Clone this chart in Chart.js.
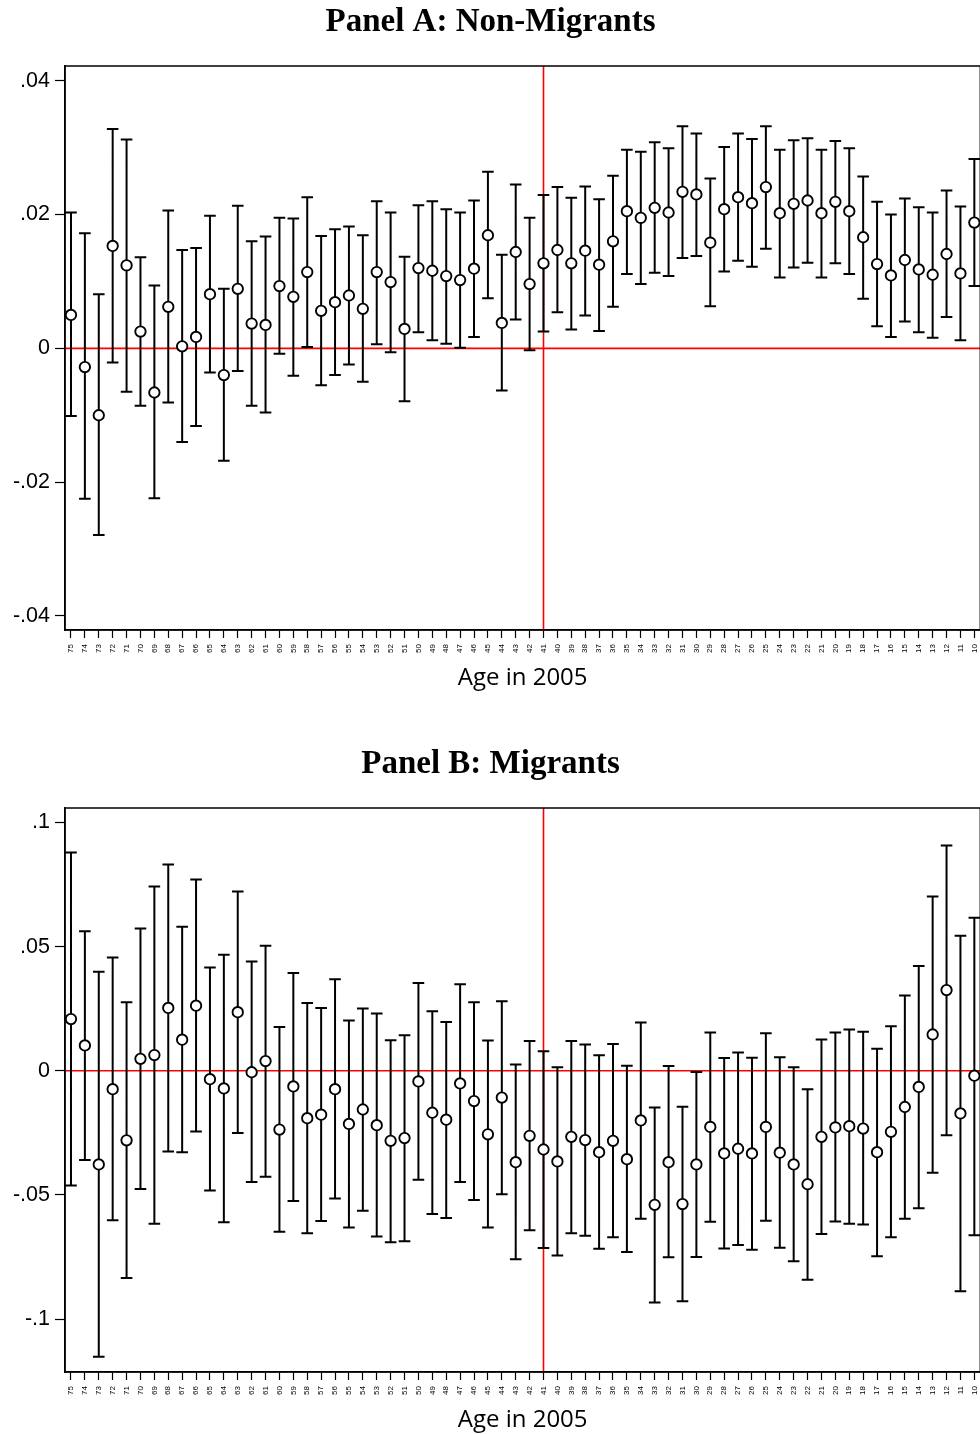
<!DOCTYPE html>
<html lang="en">
<head>
    <meta charset="UTF-8">
    <title>Age in 2005</title>
    <script src="https://cdn.jsdelivr.net/npm/chart.js"></script>
    <style>
        html, body { margin: 0; padding: 0; overflow: hidden; background: #fff; width: 980px; height: 1434px; }
        .panel { position: absolute; left: 0; }
        .panel canvas { display: block; }
        #panelA { top: 0; }
        #panelB { top: 742px; }
    </style>
</head>
<body>
    <div class="panel" id="panelA"><canvas id="chartA" width="990" height="700"></canvas></div>
    <div class="panel" id="panelB"><canvas id="chartB" width="990" height="700"></canvas></div>
    <script>
        // ages on the x axis, left to right
        const ages = [75, 74, 73, 72, 71, 70, 69, 68, 67, 66, 65, 64, 63, 62, 61, 60, 59, 58, 57,
            56, 55, 54, 53, 52, 51, 50, 49, 48, 47, 46, 45, 44, 43, 42, 41, 40, 39, 38, 37, 36, 35, 34,
            33, 32, 31, 30, 29, 28, 27, 26, 25, 24, 23, 22, 21, 20, 19, 18, 17, 16, 15, 14, 13, 12, 11, 10];
        const cutoffAge = 41;

        // Panel A: Non-Migrants
        const pointsA = [0.0050, -0.0028, -0.0100, 0.0153, 0.0124, 0.0025, -0.0066, 0.0062, 0.0003, 0.0017, 0.0081, -0.0040, 0.0089, 0.0037, 0.0035, 0.0093, 0.0077, 0.0114, 0.0056,
            0.0069, 0.0079, 0.0059, 0.0114, 0.0099, 0.0029, 0.0120, 0.0116, 0.0108, 0.0102, 0.0119, 0.0169, 0.0038, 0.0144, 0.0096, 0.0127, 0.0147, 0.0127, 0.0146, 0.0125, 0.0160, 0.0205, 0.0195,
            0.0210, 0.0203, 0.0234, 0.0230, 0.0158, 0.0208, 0.0226, 0.0217, 0.0241, 0.0202, 0.0216, 0.0221, 0.0202, 0.0219, 0.0205, 0.0166, 0.0126, 0.0109, 0.0132, 0.0118, 0.0110, 0.0141, 0.0112, 0.0188];
        const upperA = [0.0203, 0.0172, 0.0081, 0.0328, 0.0312, 0.0136, 0.0094, 0.0206, 0.0147, 0.0150, 0.0198, 0.0089, 0.0213, 0.0160, 0.0167, 0.0195, 0.0194, 0.0226, 0.0168,
            0.0178, 0.0182, 0.0169, 0.0220, 0.0203, 0.0137, 0.0214, 0.0220, 0.0208, 0.0203, 0.0221, 0.0264, 0.0140, 0.0245, 0.0195, 0.0229, 0.0241, 0.0225, 0.0242, 0.0223, 0.0258, 0.0297, 0.0294,
            0.0308, 0.0299, 0.0332, 0.0321, 0.0254, 0.0301, 0.0321, 0.0313, 0.0332, 0.0297, 0.0311, 0.0314, 0.0297, 0.0310, 0.0299, 0.0257, 0.0219, 0.0200, 0.0224, 0.0211, 0.0203, 0.0236, 0.0212, 0.0283];
        const lowerA = [-0.0101, -0.0225, -0.0279, -0.0021, -0.0065, -0.0086, -0.0224, -0.0081, -0.0140, -0.0116, -0.0036, -0.0168, -0.0034, -0.0086, -0.0096, -0.0008, -0.0041, 0.0002, -0.0055,
            -0.0040, -0.0024, -0.0050, 0.0006, -0.0006, -0.0079, 0.0024, 0.0012, 0.0007, 0.0001, 0.0017, 0.0075, -0.0063, 0.0043, -0.0003, 0.0025, 0.0054, 0.0028, 0.0049, 0.0026, 0.0062, 0.0111, 0.0096,
            0.0113, 0.0108, 0.0135, 0.0138, 0.0063, 0.0115, 0.0131, 0.0122, 0.0149, 0.0106, 0.0121, 0.0128, 0.0106, 0.0127, 0.0111, 0.0074, 0.0033, 0.0017, 0.0040, 0.0024, 0.0016, 0.0047, 0.0012, 0.0093];
        const ticksA = [-0.04, -0.02, 0, 0.02, 0.04];

        // Panel B: Migrants
        const pointsB = [0.0208, 0.0102, -0.0377, -0.0074, -0.0280, 0.0048, 0.0063, 0.0253, 0.0125, 0.0262, -0.0034, -0.0071, 0.0236, -0.0006, 0.0039, -0.0237, -0.0063, -0.0191, -0.0177,
            -0.0074, -0.0214, -0.0156, -0.0219, -0.0282, -0.0271, -0.0043, -0.0169, -0.0197, -0.0051, -0.0122, -0.0256, -0.0108, -0.0368, -0.0262, -0.0317, -0.0365, -0.0266, -0.0279, -0.0328, -0.0282, -0.0356, -0.0200,
            -0.0540, -0.0368, -0.0537, -0.0377, -0.0226, -0.0333, -0.0314, -0.0333, -0.0226, -0.0330, -0.0377, -0.0457, -0.0266, -0.0228, -0.0223, -0.0233, -0.0328, -0.0246, -0.0146, -0.0065, 0.0146, 0.0325, -0.0172, -0.0020];
        const upperB = [0.0879, 0.0562, 0.0399, 0.0456, 0.0276, 0.0573, 0.0742, 0.0831, 0.0580, 0.0770, 0.0416, 0.0467, 0.0722, 0.0440, 0.0503, 0.0176, 0.0394, 0.0273, 0.0253,
            0.0368, 0.0202, 0.0251, 0.0231, 0.0123, 0.0143, 0.0353, 0.0240, 0.0196, 0.0348, 0.0276, 0.0122, 0.0280, 0.0025, 0.0120, 0.0079, 0.0014, 0.0120, 0.0106, 0.0062, 0.0108, 0.0020, 0.0194,
            -0.0148, 0.0019, -0.0145, -0.0005, 0.0154, 0.0051, 0.0074, 0.0052, 0.0151, 0.0054, 0.0014, -0.0074, 0.0126, 0.0154, 0.0166, 0.0157, 0.0089, 0.0179, 0.0303, 0.0422, 0.0702, 0.0907, 0.0544, 0.0616];
        const lowerB = [-0.0462, -0.0359, -0.1152, -0.0602, -0.0835, -0.0476, -0.0616, -0.0325, -0.0328, -0.0245, -0.0482, -0.0610, -0.0251, -0.0448, -0.0427, -0.0648, -0.0524, -0.0654, -0.0605,
            -0.0514, -0.0631, -0.0564, -0.0667, -0.0691, -0.0687, -0.0439, -0.0577, -0.0593, -0.0448, -0.0520, -0.0631, -0.0497, -0.0759, -0.0642, -0.0714, -0.0744, -0.0654, -0.0664, -0.0717, -0.0670, -0.0730, -0.0596,
            -0.0933, -0.0751, -0.0928, -0.0750, -0.0608, -0.0716, -0.0702, -0.0721, -0.0604, -0.0713, -0.0767, -0.0842, -0.0657, -0.0607, -0.0616, -0.0619, -0.0747, -0.0670, -0.0596, -0.0554, -0.0411, -0.0260, -0.0888, -0.0662];
        const ticksB = [-0.1, -0.05, 0, 0.05, 0.1];

        // .04 / -.02 / 0 style labels
        function fmtTick(v) {
            if (v === 0) return '0';
            return String(+v.toFixed(3)).replace('0.', '.');
        }

        // draws red reference lines, the confidence interval caps and the plot frame
        function makeErrorBars(lower, upper) {
            return {
                id: 'errorBars',
                beforeDatasetsDraw(chart) {
                    const ctx = chart.ctx;
                    const area = chart.chartArea;
                    const x = chart.scales.x;
                    const y = chart.scales.y;
                    ctx.save();

                    ctx.strokeStyle = '#ff0000';
                    ctx.lineWidth = 1.6;
                    ctx.beginPath();
                    const y0 = y.getPixelForValue(0);
                    ctx.moveTo(area.left, y0);
                    ctx.lineTo(area.right, y0);
                    const xc = x.getPixelForValue(cutoffAge);
                    ctx.moveTo(xc, area.top);
                    ctx.lineTo(xc, area.bottom);
                    ctx.stroke();

                    ctx.strokeStyle = '#000';
                    ctx.lineWidth = 2;
                    ctx.beginPath();
                    ages.forEach((age, i) => {
                        const px = x.getPixelForValue(age);
                        const yl = y.getPixelForValue(lower[i]);
                        const yh = y.getPixelForValue(upper[i]);
                        ctx.moveTo(px, yl);
                        ctx.lineTo(px, yh);
                        ctx.moveTo(px - 5.8, yl);
                        ctx.lineTo(px + 5.8, yl);
                        ctx.moveTo(px - 5.8, yh);
                        ctx.lineTo(px + 5.8, yh);
                    });
                    ctx.stroke();

                    ctx.lineWidth = 1.5;
                    ctx.strokeRect(area.left, area.top, area.width, area.height);
                    ctx.restore();
                }
            };
        }

        function createPanel(canvasId, title, points, lower, upper, yTicks, yMin, yMax) {
            const ctx = document.getElementById(canvasId).getContext('2d');
            return new Chart(ctx, {
                type: 'scatter',
                data: {
                    datasets: [{
                        data: ages.map((age, i) => ({ x: age, y: points[i] })),
                        pointRadius: 5.2,
                        pointBorderWidth: 1.9,
                        pointBorderColor: '#000',
                        pointBackgroundColor: '#fff',
                        showLine: false
                    }]
                },
                options: {
                    responsive: false,
                    animation: false,
                    layout: { padding: { right: 9 } },
                    plugins: {
                        legend: { display: false },
                        tooltip: { enabled: false },
                        title: {
                            display: true,
                            text: title,
                            color: '#000',
                            font: { family: 'Liberation Serif', size: 33, weight: 'bold' },
                            padding: { top: 3, bottom: 23.4 }
                        }
                    },
                    scales: {
                        x: {
                            type: 'linear',
                            reverse: true,
                            min: 9.57,
                            max: 75.43,
                            afterBuildTicks: s => { s.ticks = ages.map(a => ({ value: a })); },
                            afterFit: s => { s.height = 70; },
                            grid: { drawOnChartArea: false, tickLength: 8, tickColor: '#000', tickWidth: 1.2 },
                            border: { color: '#000', width: 1.5 },
                            ticks: {
                                autoSkip: false,
                                minRotation: 90,
                                maxRotation: 90,
                                padding: 6,
                                color: '#000',
                                font: { family: 'Liberation Sans', size: 8 }
                            },
                            title: {
                                display: true,
                                text: 'Age in 2005',
                                color: '#000',
                                font: { family: 'Open Sans', size: 24 },
                                padding: { top: 0, bottom: 7.6 }
                            }
                        },
                        y: {
                            min: yMin,
                            max: yMax,
                            afterBuildTicks: s => { s.ticks = yTicks.map(v => ({ value: v })); },
                            afterFit: s => { s.width = 65; },
                            grid: { drawOnChartArea: false, tickLength: 10, tickColor: '#000', tickWidth: 1.2 },
                            border: { color: '#000', width: 1.5 },
                            ticks: {
                                padding: 5,
                                color: '#000',
                                font: { family: 'Liberation Sans', size: 21.5 },
                                callback: v => fmtTick(v)
                            }
                        }
                    }
                },
                plugins: [makeErrorBars(lower, upper)]
            });
        }

        createPanel('chartA', 'Panel A: Non-Migrants', pointsA, lowerA, upperA, ticksA, -0.0421, 0.0422);
        createPanel('chartB', 'Panel B: Migrants', pointsB, lowerB, upperB, ticksB, -0.1213, 0.1058);
    </script>
</body>
</html>
